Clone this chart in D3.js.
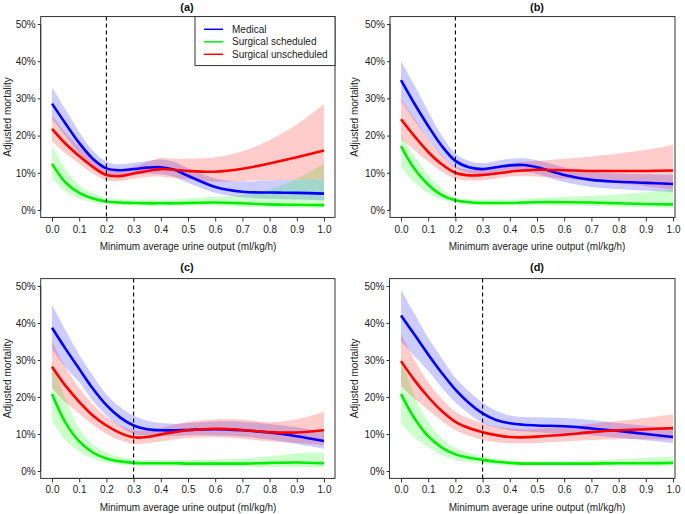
<!DOCTYPE html>
<html>
<head>
<meta charset="utf-8">
<script src="https://cdn.jsdelivr.net/npm/d3@7"></script>
<style>
  html, body { margin: 0; padding: 0; background: #fff; }
  svg { display: block; font-family: "Liberation Sans", Arial, Helvetica, sans-serif; }
</style>
</head>
<body>
<svg id="chart" width="685" height="514"></svg>
<script>
// ---------------- DATA ----------------
const xValues = [0, 0.05, 0.1, 0.15, 0.2, 0.25, 0.3, 0.35, 0.4, 0.45, 0.5, 0.6, 0.7, 0.8, 0.9, 1.0];
const xTicks = [0, 0.1, 0.2, 0.3, 0.4, 0.5, 0.6, 0.7, 0.8, 0.9, 1.0];
const yTicks = [0, 10, 20, 30, 40, 50];
const seriesNames = ["Medical", "Surgical scheduled", "Surgical unscheduled"];
const panelLabels = ["(a)", "(b)", "(c)", "(d)"];
const cutoffs = [0.2, 0.2, 0.3, 0.3];

// Panel (a)
const medicalA   = [28.6,23.2,18.0,13.8,11.2,10.7,11.0,11.4,11.5,10.8, 9.2, 6.2, 4.9, 4.7, 4.6, 4.4];
const medicalALo = [24.5,19.8,15.3,11.8, 9.6, 9.3, 9.5, 9.8, 9.6, 8.9, 7.3, 4.6, 3.4, 3.0, 2.8, 2.5];
const medicalAHi = [33.0,27.0,21.0,16.0,13.0,12.3,12.7,13.2,13.6,12.9,11.2, 8.5, 7.7, 7.9, 8.1, 8.2];
const schedA     = [12.4, 7.4, 4.6, 3.1, 2.3, 2.0, 1.9, 1.8, 1.8, 1.8, 1.9, 2.0, 1.8, 1.5, 1.4, 1.3];
const schedALo   = [ 8.3, 4.9, 3.1, 2.0, 1.5, 1.3, 1.2, 1.1, 1.1, 1.1, 1.1, 1.1, 0.9, 0.7, 0.6, 0.5];
const schedAHi   = [17.5,11.0, 6.7, 4.5, 3.3, 2.9, 2.8, 2.8, 2.8, 2.9, 3.1, 3.6, 3.9, 5.5, 8.5,12.5];
const unschedA   = [21.8,17.8,14.5,11.6, 9.4, 9.1, 9.8,10.5,11.0,10.8,10.5,10.3,11.1,12.5,14.2,16.0];
const unschedALo = [18.5,15.2,12.4, 9.8, 8.0, 7.8, 8.4, 8.9, 9.0, 8.6, 8.2, 7.6, 7.8, 8.0, 8.1, 8.2];
const unschedAHi = [25.5,20.8,17.0,13.8,11.5,10.9,11.7,12.9,13.9,13.8,13.8,14.2,15.8,18.8,23.0,28.5];

// Panel (b)
const medicalB   = [34.9,28.5,22.6,17.2,13.2,11.5,11.0,11.5,12.0,12.1,11.5, 9.4, 8.1, 7.6, 7.3, 7.0];
const medicalBLo = [29.5,24.0,19.0,14.5,11.3,10.0, 9.6,10.0,10.4,10.4, 9.7, 7.5, 6.2, 5.6, 5.2, 4.8];
const medicalBHi = [40.0,33.5,26.5,20.0,15.2,13.2,12.6,13.2,13.8,13.9,13.4,11.5,10.2, 9.8, 9.6, 9.5];
const schedB     = [17.2,11.0, 6.8, 4.0, 2.6, 2.1, 1.9, 1.9, 1.9, 2.0, 2.1, 2.1, 2.0, 1.8, 1.6, 1.5];
const schedBLo   = [11.5, 7.3, 4.5, 2.8, 1.8, 1.4, 1.2, 1.2, 1.2, 1.2, 1.3, 1.2, 1.1, 0.9, 0.7, 0.5];
const schedBHi   = [20.0,14.5, 9.5, 5.8, 3.4, 2.9, 2.8, 2.8, 2.8, 3.0, 3.2, 3.5, 3.8, 4.2, 4.8, 5.5];
const unschedB   = [24.4,19.8,15.6,12.3,10.0, 9.3, 9.4, 9.8,10.3,10.6,10.8,10.7,10.5,10.5,10.5,10.6];
const unschedBLo = [19.0,16.0,13.0,10.3, 8.4, 7.9, 8.0, 8.5, 9.0, 9.1, 9.0, 8.4, 7.8, 7.2, 6.4, 5.5];
const unschedBHi = [30.0,24.5,19.0,14.8,11.6,10.8,11.0,11.6,12.5,12.9,13.2,13.8,14.4,15.2,16.2,17.5];

// Panel (c)
const medicalC   = [38.7,33.0,27.6,22.3,17.8,14.5,12.3,11.3,11.0,11.0,11.1,11.3,11.0,10.4, 9.4, 8.1];
const medicalCLo = [33.0,28.0,24.0,19.0,15.0,12.0,10.0, 9.5, 9.4, 9.5, 9.6, 9.6, 9.3, 8.5, 7.3, 6.0];
const medicalCHi = [45.0,38.0,31.5,25.8,20.7,17.3,15.0,13.6,13.0,12.8,13.0,13.4,13.3,12.7,11.8,10.5];
const schedC     = [20.8,13.0, 8.0, 5.0, 3.4, 2.6, 2.2, 2.1, 2.1, 2.1, 2.0, 2.0, 2.0, 2.2, 2.3, 2.1];
const schedCLo   = [13.5, 8.3, 5.3, 3.3, 2.3, 1.7, 1.5, 1.4, 1.4, 1.3, 1.3, 1.2, 1.2, 1.1, 1.0, 0.9];
const schedCHi   = [29.5,19.5,11.5, 7.3, 5.0, 3.8, 3.1, 3.0, 3.0, 3.0, 3.0, 3.1, 3.4, 4.0, 4.8, 5.0];
const unschedC   = [28.2,23.0,18.7,15.0,12.3,10.3, 9.1, 9.2, 9.9,10.5,11.0,11.4,11.1,10.5,10.4,11.0];
const unschedCLo = [22.5,18.5,15.5,12.5,10.0, 8.3, 7.3, 7.5, 8.0, 8.5, 8.9, 9.1, 8.7, 8.0, 7.6, 7.0];
const unschedCHi = [35.0,28.0,22.5,18.0,14.7,12.3,11.0,11.0,11.7,12.5,13.3,14.0,13.9,13.2,14.0,16.0];

// Panel (d)
const medicalD   = [42.0,36.8,31.5,26.5,22.0,18.4,15.6,13.8,12.9,12.5,12.3,12.1,11.5,10.8,10.0, 9.2];
const medicalDLo = [35.0,31.0,27.0,22.5,18.5,15.5,13.0,11.8,11.0,10.7,10.5,10.0, 9.6, 9.0, 8.3, 7.5];
const medicalDHi = [49.0,42.5,36.0,30.5,25.2,21.5,18.5,16.3,15.0,14.6,14.5,14.3,13.8,13.0,12.2,11.5];
const schedD     = [20.8,14.2, 9.4, 6.3, 4.5, 3.6, 3.0, 2.5, 2.2, 2.0, 2.0, 2.0, 2.0, 2.1, 2.1, 2.2];
const schedDLo   = [12.7, 9.0, 6.4, 4.3, 3.0, 2.4, 2.0, 1.7, 1.5, 1.4, 1.4, 1.4, 1.4, 1.4, 1.4, 1.4];
const schedDHi   = [31.0,20.5,13.3, 8.8, 6.2, 4.9, 4.0, 3.3, 2.9, 2.7, 2.6, 2.7, 2.9, 3.2, 3.6, 4.0];
const unschedD   = [29.7,24.5,20.0,16.2,13.3,11.6,10.5, 9.7, 9.2, 9.1, 9.3, 9.8,10.5,11.0,11.3,11.6];
const unschedDLo = [23.0,19.5,16.5,13.5,11.0, 9.5, 8.4, 7.8, 7.5, 7.5, 7.6, 8.0, 8.4, 8.6, 8.6, 8.5];
const unschedDHi = [37.0,30.0,24.0,19.5,16.0,14.2,13.0,12.0,11.5,11.3,11.4,12.0,12.8,13.5,14.4,15.3];

// ---------------- BUILD ----------------
const panelSeries = [
  [[medicalA, medicalALo, medicalAHi], [schedA, schedALo, schedAHi], [unschedA, unschedALo, unschedAHi]],
  [[medicalB, medicalBLo, medicalBHi], [schedB, schedBLo, schedBHi], [unschedB, unschedBLo, unschedBHi]],
  [[medicalC, medicalCLo, medicalCHi], [schedC, schedCLo, schedCHi], [unschedC, unschedCLo, unschedCHi]],
  [[medicalD, medicalDLo, medicalDHi], [schedD, schedDLo, schedDHi], [unschedD, unschedDLo, unschedDHi]]
];

const lineColors = ["#0000ff", "#00ee00", "#ff0000"];
const bandColors = ["rgba(0,0,255,0.2)", "rgba(0,255,0,0.2)", "rgba(255,0,0,0.2)"];
const textColor = "#222";
const axisColor = "#333";

const layouts = [
  { x0: 52,  x1: 324, y0: 210, y50: 24,  boxL: 40.7, boxR: 335, titleX: 187, titleY: 10.5, ylabX: 7 },
  { x0: 401, x1: 673, y0: 210, y50: 24,  boxL: 390,  boxR: 675, titleX: 537, titleY: 10.5, ylabX: 354 },
  { x0: 52,  x1: 324, y0: 471, y50: 286, boxL: 40.7, boxR: 335, titleX: 187, titleY: 271, ylabX: 7 },
  { x0: 401, x1: 673, y0: 471, y50: 286, boxL: 389.5,boxR: 675, titleX: 537, titleY: 271, ylabX: 354 }
];

const svg = d3.select("#chart");

layouts.forEach((L, pi) => {
  const x = d3.scaleLinear().domain([0, 1]).range([L.x0, L.x1]);
  const y = d3.scaleLinear().domain([0, 50]).range([L.y0, L.y50]);
  const boxT = y(52), boxB = y(-2);
  const g = svg.append("g");

  const clipId = "clip" + pi;
  svg.append("clipPath").attr("id", clipId)
    .append("rect").attr("x", L.boxL).attr("y", boxT)
    .attr("width", L.boxR - L.boxL).attr("height", boxB - boxT);

  const plot = g.append("g").attr("clip-path", `url(#${clipId})`);
  const curve = d3.curveCatmullRom.alpha(0.5);

  const area = d3.area()
    .x(d => x(d.x)).y0(d => y(d.lo)).y1(d => y(d.hi)).curve(curve);
  const line = d3.line().x(d => x(d.x)).y(d => y(d.v)).curve(curve);

  panelSeries[pi].forEach((s, si) => {
    const pts = xValues.map((xv, i) => ({ x: xv, v: s[0][i], lo: s[1][i], hi: s[2][i] }));
    plot.append("path").datum(pts).attr("d", area)
      .attr("fill", bandColors[si]).attr("stroke", "none");
  });
  panelSeries[pi].forEach((s, si) => {
    const pts = xValues.map((xv, i) => ({ x: xv, v: s[0][i] }));
    plot.append("path").datum(pts).attr("d", line)
      .attr("fill", "none").attr("stroke", lineColors[si])
      .attr("stroke-width", 2.6).attr("stroke-linejoin", "round").attr("stroke-linecap", "butt");
  });

  g.append("line")
    .attr("x1", x(cutoffs[pi])).attr("x2", x(cutoffs[pi]))
    .attr("y1", boxT).attr("y2", boxB)
    .attr("stroke", "#000").attr("stroke-width", 1.1).attr("stroke-dasharray", "4,3");

  g.append("rect").attr("x", L.boxL).attr("y", boxT)
    .attr("width", L.boxR - L.boxL).attr("height", boxB - boxT)
    .attr("fill", "none").attr("stroke", axisColor).attr("stroke-width", 1);

  const xAxis = d3.axisBottom(x).tickValues(xTicks).tickFormat(d3.format(".1f"))
    .tickSize(4).tickPadding(4);
  const gx = g.append("g").attr("transform", `translate(0,${boxB})`).call(xAxis);
  gx.select(".domain").attr("stroke", axisColor).attr("d", `M${x(0)},0H${x(1)}`);
  gx.selectAll(".tick line").attr("stroke", axisColor);
  gx.selectAll("text").attr("fill", textColor).style("font-size", "10px")
    .style("font-family", "Liberation Sans, Arial, sans-serif");

  const yAxis = d3.axisLeft(y).tickValues(yTicks).tickFormat(d => d + "%")
    .tickSize(3).tickPadding(2);
  const gy = g.append("g").attr("transform", `translate(${L.boxL},0)`).call(yAxis);
  gy.select(".domain").attr("stroke", axisColor).attr("d", `M0,${y(0)}V${y(50)}`);
  gy.selectAll(".tick line").attr("stroke", axisColor);
  gy.selectAll("text").attr("fill", textColor).style("font-size", "10px")
    .style("font-family", "Liberation Sans, Arial, sans-serif");

  g.append("text").attr("x", L.titleX).attr("y", L.titleY)
    .attr("text-anchor", "middle").attr("font-weight", "bold")
    .attr("font-size", 11).attr("fill", "#111").text(panelLabels[pi]);

  g.append("text").attr("x", (L.x0 + L.x1) / 2).attr("y", boxB + 32.5)
    .attr("text-anchor", "middle").attr("font-size", 10).attr("fill", textColor)
    .text("Minimum average urine output (ml/kg/h)");

  g.append("text")
    .attr("transform", `translate(${L.ylabX},${(boxT + boxB) / 2}) rotate(-90)`)
    .attr("text-anchor", "middle").attr("dominant-baseline", "central")
    .attr("font-size", 10).attr("fill", textColor).text("Adjusted mortality");

  if (pi === 0) {
    const lg = g.append("g");
    lg.append("rect").attr("x", 195).attr("y", boxT)
      .attr("width", L.boxR - 195).attr("height", 49)
      .attr("fill", "#fff").attr("stroke", axisColor).attr("stroke-width", 1);
    seriesNames.forEach((name, si) => {
      const ly = 29.3 + si * 12.5;
      lg.append("line").attr("x1", 204).attr("x2", 223).attr("y1", ly).attr("y2", ly)
        .attr("stroke", lineColors[si]).attr("stroke-width", 1.5);
      lg.append("text").attr("x", 232).attr("y", ly).attr("dominant-baseline", "central")
        .attr("font-size", 10).attr("fill", textColor).text(name);
    });
  }
});
</script>
</body>
</html>
